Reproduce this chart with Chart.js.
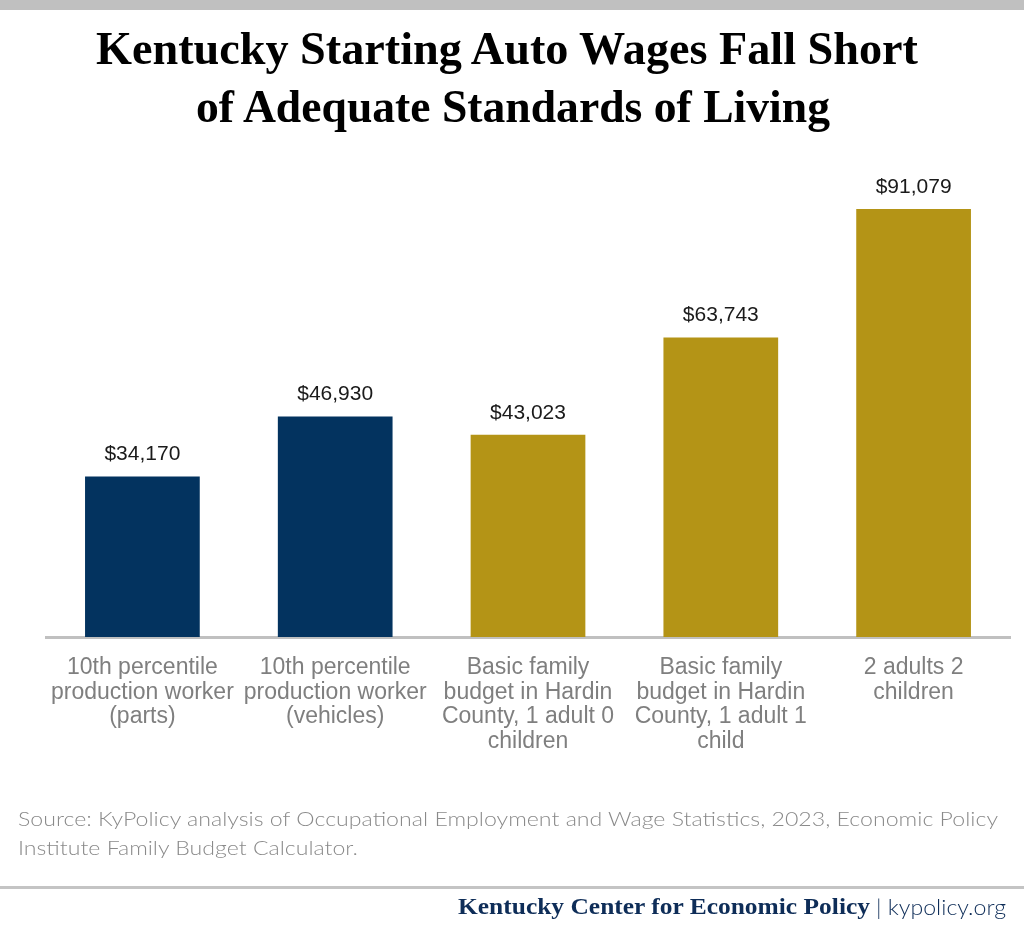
<!DOCTYPE html>
<html>
<head>
<meta charset="utf-8">
<script src="https://cdn.jsdelivr.net/npm/chart.js@4.4.1/dist/chart.umd.min.js"></script>
<style>
 body{margin:0;width:1024px;height:952px;position:relative;background:#fff;overflow:hidden}
 canvas{position:absolute;left:0;top:0}
 .abs{position:absolute;white-space:nowrap;line-height:1;transform-origin:0 0}
 #topbar{left:0;top:0;width:1024px;height:10px;background:#c0c0c0}
 #rule{left:0;top:886px;width:1024px;height:3px;background:#c4c4c4}
 .ttl{font:bold 46px "Liberation Serif";color:#000}
 .src{font:300 20px "Lato";color:#8a8a8a}
 .org{font:bold 23px "Liberation Serif";color:#0e2d58}
 .web{font:300 21px "Lato";color:#0e2d58}
</style>
</head>
<body>
<canvas id="chart" width="1024" height="952"></canvas>
<div class="abs" id="topbar"></div>
<div class="abs ttl" id="t1">Kentucky Starting Auto Wages Fall Short</div>
<div class="abs ttl" id="t2">of Adequate Standards of Living</div>
<div class="abs src" id="s1">Source: KyPolicy analysis of Occupational Employment and Wage Statistics, 2023, Economic Policy</div>
<div class="abs src" id="s2">Institute Family Budget Calculator.</div>
<div class="abs" id="rule"></div>
<div class="abs org" id="f1">Kentucky Center for Economic Policy</div>
<div class="abs web" id="f2">| kypolicy.org</div>
<script>
/* ===== DATA ===== */
const categories=[
 ["10th percentile","production worker","(parts)"],
 ["10th percentile","production worker","(vehicles)"],
 ["Basic family","budget in Hardin","County, 1 adult 0","children"],
 ["Basic family","budget in Hardin","County, 1 adult 1","child"],
 ["2 adults 2","children"]
]
const values=[34170,46930,43023,63743,91079]
const groups=["wage","wage","budget","budget","budget"]

/* ===== STYLE ===== */
const colorOf={wage:"#03335f",budget:"#b49416"}
const fmt=v=>"$"+v.toLocaleString("en-US")

/* ===== TEXT PLACEMENT ===== */
function place(id,left,top,width){
 const el=document.getElementById(id)
 el.style.left=left+"px"
 el.style.top=top+"px"
 if(width){
  const w=el.getBoundingClientRect().width
  el.style.transform="scaleX("+(width/w)+")"
 }
}
place("t1",96,22,822)
place("t2",196,80,634)
place("s1",18,806,980)
place("s2",18,835,340)
place("f1",458,894,412)
place("f2",876,894,130)

/* ===== VALUE LABELS ===== */
const valueLabels={
 id:"valueLabels",
 afterDatasetsDraw(c){
  const ctx=c.ctx
  ctx.save()
  ctx.font='21px "Liberation Sans"'
  ctx.fillStyle="#1a1a1a"
  ctx.textAlign="center"
  ctx.textBaseline="alphabetic"
  c.getDatasetMeta(0).data.forEach((b,i)=>ctx.fillText(fmt(values[i]),b.x,b.y-16))
  ctx.restore()
 }
}

/* ===== CHART ===== */
new Chart(document.getElementById("chart"),{
 type:"bar",
 data:{
  labels:categories,
  datasets:[{
   data:values,
   backgroundColor:groups.map(g=>colorOf[g]),
   categoryPercentage:1,
   barPercentage:0.595
  }]
 },
 options:{
  responsive:false,
  animation:false,
  devicePixelRatio:1,
  layout:{padding:{left:46,right:14,top:167,bottom:0}},
  plugins:{legend:{display:false},tooltip:{enabled:false}},
  scales:{
   y:{display:false,min:0,max:100000},
   x:{
    grid:{display:false,drawTicks:false},
    border:{display:true,color:"#c0c0c0",width:3},
    ticks:{
     color:"#7f7f7f",
     font:{family:"Liberation Sans",size:23,lineHeight:1.08},
     padding:18,
     maxRotation:0,
     autoSkip:false
    },
    afterFit(s){s.height=952-637}
   }
  }
 },
 plugins:[valueLabels]
})
</script>
</body>
</html>
